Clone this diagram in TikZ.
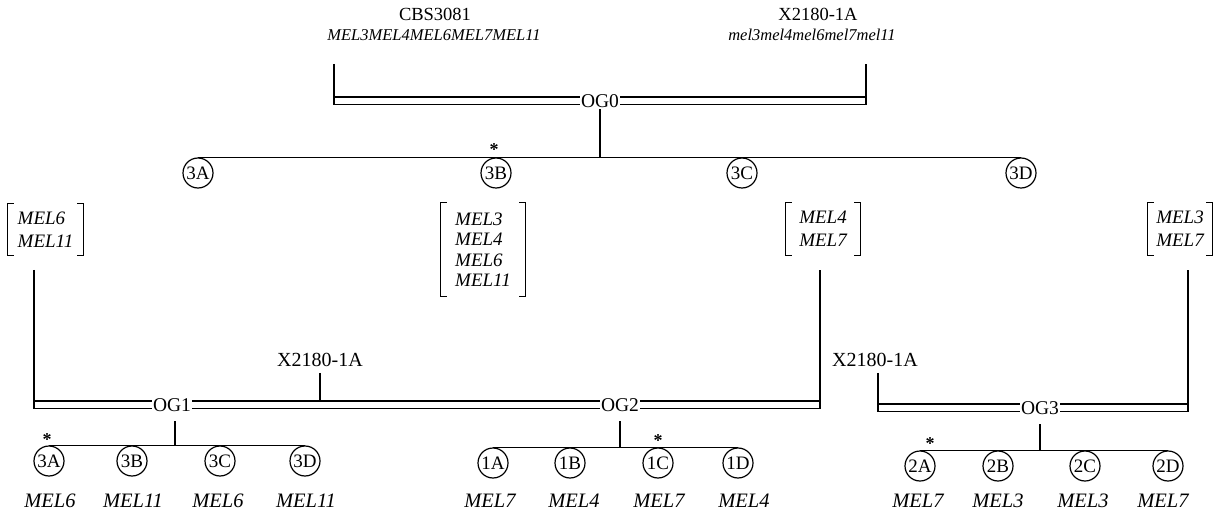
\documentclass[tikz,border=0pt]{standalone}
\usepackage{fontspec}
\setmainfont{Liberation Serif}
\usetikzlibrary{backgrounds}
\newcommand{\drawbrackets}[1]{%
  \draw[ln] ([xshift=6pt]#1.north west) -- (#1.north west) -- (#1.south west) -- ([xshift=6pt]#1.south west);
  \draw[ln] ([xshift=-6pt]#1.north east) -- (#1.north east) -- (#1.south east) -- ([xshift=-6pt]#1.south east);}
\begin{document}
\begin{tikzpicture}[x=1pt,y=-1pt,
  lbl/.style={inner sep=0pt, font=\fontsize{18.5}{20}\selectfont},
  lblbig/.style={inner sep=0pt, font=\fontsize{20}{22}\selectfont},
  topgene/.style={inner sep=0pt, font=\fontsize{16.5}{19}\selectfont\itshape},
  og/.style={inner sep=1.5pt, minimum height=15pt, fill=white, font=\fontsize{19.5}{20}\selectfont},
  tet/.style={circle, draw, line width=1.2pt, minimum size=30pt, inner sep=0pt, font=\fontsize{19}{19}\selectfont},
  allele/.style={inner sep=0pt, anchor=base, font=\fontsize{20.5}{22}\selectfont\itshape},
  brk/.style={inner sep=0pt, align=left, font=\fontsize{19}{23}\selectfont\itshape},
  brkfour/.style={inner sep=0pt, align=left, font=\fontsize{19}{20.5}\selectfont\itshape},
  ln/.style={line width=1.2pt},
  star/.style={inner sep=0pt, font=\bfseries\fontsize{18}{18}\selectfont}
]
\useasboundingbox (0,0) rectangle (1214,510);

% ---------- top cross ----------
\node[lbl] (cbs) at (435,14) {CBS3081};
\node[topgene] (cbsg) at (434,35) {MEL3MEL4MEL6MEL7MEL11};
\node[lbl] (xtop) at (818,14) {X2180-1A};
\node[topgene] (xtopg) at (812,35) {mel3mel4mel6mel7mel11};
\coordinate (p0l) at (334,64);
\coordinate (p0r) at (866,64);
\coordinate (d0l) at (334,97);
\coordinate (d0r) at (866,97);
\coordinate (e0l) at (334,104.5);
\coordinate (e0r) at (866,104.5);
\node[og] (og0) at (600,101) {OG0};

\node[tet] (t3A) at (198,173) {3A};
\node[tet] (t3B) at (496,173) {3B};
\node[tet] (t3C) at (742,173) {3C};
\node[tet] (t3D) at (1021,173) {3D};
\node[star] (s0) at (494,150) {*};

% ---------- brackets ----------
\node[brk, minimum width=75pt, minimum height=51pt] (b1) at (45.5,229.5) {MEL6\\MEL11};
\node[brkfour, minimum width=84pt, minimum height=93pt] (b2) at (483,249.5) {MEL3\\MEL4\\MEL6\\MEL11};
\node[brk, minimum width=74pt, minimum height=52pt] (b3) at (823,229) {MEL4\\MEL7};
\node[brk, minimum width=64pt, minimum height=52pt] (b4) at (1180,229) {MEL3\\MEL7};
\drawbrackets{b1}
\drawbrackets{b2}
\drawbrackets{b3}
\drawbrackets{b4}

% ---------- second generation ----------
\coordinate (v1) at (34,270);
\coordinate (v3) at (820,270);
\coordinate (v4) at (1188,270);
\coordinate (d1l) at (34,401);
\coordinate (d1r) at (820,401);
\coordinate (e1l) at (34,408.5);
\coordinate (e1r) at (820,408.5);
\node[og] (og1) at (172,405) {OG1};
\node[og] (og2) at (620,405) {OG2};
\node[lblbig] (x1) at (320,360) {X2180-1A};

\node[lblbig] (x2) at (875,360) {X2180-1A};
\coordinate (d3l) at (878,404);
\coordinate (d3r) at (1188,404);
\coordinate (e3l) at (878,411.5);
\coordinate (e3r) at (1188,411.5);
\node[og] (og3) at (1040,408) {OG3};

% tetrads OG1
\node[tet] (a3A) at (49,461) {3A};
\node[tet] (a3B) at (132,461) {3B};
\node[tet] (a3C) at (220,461) {3C};
\node[tet] (a3D) at (305,461) {3D};
\node[star] (s1) at (47,440) {*};
% tetrads OG2
\node[tet] (c1A) at (493,463) {1A};
\node[tet] (c1B) at (570,463) {1B};
\node[tet] (c1C) at (658,463) {1C};
\node[tet] (c1D) at (738,463) {1D};
\node[star] (s2) at (658,441) {*};
% tetrads OG3
\node[tet] (g2A) at (920,466) {2A};
\node[tet] (g2B) at (998,466) {2B};
\node[tet] (g2C) at (1085,466) {2C};
\node[tet] (g2D) at (1168,466) {2D};
\node[star] (s3) at (930,444) {*};

% allele labels
\node[allele] (m1) at (50,507) {MEL6};
\node[allele] (m2) at (133,507) {MEL11};
\node[allele] (m3) at (218,507) {MEL6};
\node[allele] (m4) at (306,507) {MEL11};
\node[allele] (m5) at (490,507) {MEL7};
\node[allele] (m6) at (574,507) {MEL4};
\node[allele] (m7) at (659,507) {MEL7};
\node[allele] (m8) at (744,507) {MEL4};
\node[allele] (m9) at (918,507) {MEL7};
\node[allele] (m10) at (998,507) {MEL3};
\node[allele] (m11) at (1083,507) {MEL3};
\node[allele] (m12) at (1163,507) {MEL7};

% ---------- connectors ----------
\begin{scope}[on background layer]
  % OG0 double line
  \draw[ln] (p0l) -- (e0l) -- (e0r) -- (p0r);
  \draw[ln] (d0l) -- (d0r);
  \draw[ln] (og0.south) -- (og0.south |- t3A.north);
  \draw[ln] (t3A.north) -- (t3D.north);
  % OG1 / OG2 double line
  \draw[ln] (v1) -- (e1l) -- (e1r) -- (v3);
  \draw[ln] (d1l) -- (d1r);
  \draw[ln] ([yshift=-6pt]x1.south) -- (x1.south |- d1l);
  % OG3 double line
  \draw[ln] ([yshift=-6pt]x2.south -| e3l) -- (e3l) -- (e3r) -- (v4);
  \draw[ln] (d3l) -- (d3r);
  % stems and sister lines
  \draw[ln] ([yshift=-8pt]og1.south -| 175,0) -- (a3A.north -| 175,0);
  \draw[ln] (a3A.north) -- (a3D.north);
  \draw[ln] ([yshift=-8pt]og2.south) -- (og2.south |- c1A.north);
  \draw[ln] (c1A.north) -- (c1D.north);
  \draw[ln] ([yshift=-8pt]og3.south) -- (og3.south |- g2A.north);
  \draw[ln] (g2A.north) -- (g2D.north);
\end{scope}
\end{tikzpicture}
\end{document}
